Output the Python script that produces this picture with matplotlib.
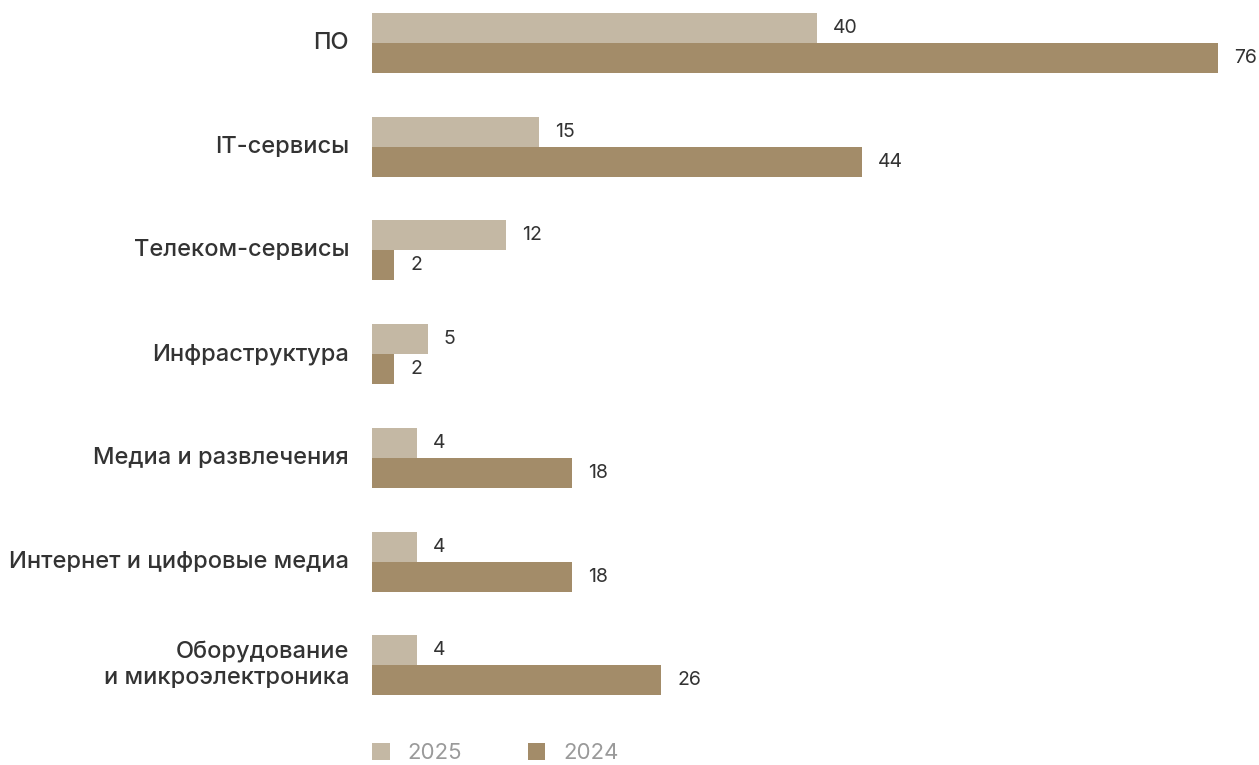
import numpy as np
import matplotlib.pyplot as plt

# Значения по отраслям
categories = ["ПО", "IT-сервисы", "Телеком-сервисы", "Инфраструктура",
              "Медиа и развлечения", "Интернет и цифровые медиа",
              "Оборудование\nи микроэлектроника"]
values_2025 = [40, 15, 12, 5, 4, 4, 4]
values_2024 = [76, 44, 2, 2, 18, 18, 26]
years = ["2025", "2024"]

c_light = "#c4b8a4"
c_dark = "#a38c69"
text_color = "#333333"

plt.rcParams["font.family"] = ["Inter", "DejaVu Sans"]

W, H = 1259, 765
fig = plt.figure(figsize=(W / 100, H / 100), dpi=100)

# оси в пикселях: слева 372, шаг групп ~103.7 px, высота бара 30 px
step = 103.7
left, right = 372, 1240
top, bottom = 0, 712
ax = fig.add_axes([left / W, 1 - bottom / H, (right - left) / W, (bottom - top) / H])

px_per_unit = (1218 - 372) / 76
ax.set_xlim(0, (right - left) / px_per_unit)
y_top = -43 / step
y_bot = y_top + (bottom - top) / step
ax.set_ylim(y_bot, y_top)

y = np.arange(len(categories))
h = 30 / step
ax.barh(y - h / 2, values_2025, height=h, color=c_light, label=years[0])
ax.barh(y + h / 2, values_2024, height=h, color=c_dark, label=years[1])

off = 16 / px_per_unit
for yi, v1, v2 in zip(y, values_2025, values_2024):
    ax.text(v1 + off, yi - h / 2, str(v1), va="center", ha="left",
            fontsize=14, color=text_color)
    ax.text(v2 + off, yi + h / 2, str(v2), va="center", ha="left",
            fontsize=14, color=text_color)

for yi, name in zip(y, categories):
    ax.text(-23 / px_per_unit, yi, name, va="center", ha="right",
            fontsize=17, fontweight="medium", color=text_color,
            linespacing=1.25)

ax.set_xticks([])
ax.set_yticks([])
for s in ax.spines.values():
    s.set_visible(False)

# легенда
fig.legend(loc="center left", bbox_to_anchor=(372 / W, 1 - 753 / H), ncol=2,
           frameon=False, fontsize=16, labelcolor="#9a9a9a",
           borderaxespad=0, borderpad=0,
           handlelength=0.8, handleheight=0.8, handletextpad=0.8,
           columnspacing=2.95)

fig.savefig("out.png", dpi=100)
